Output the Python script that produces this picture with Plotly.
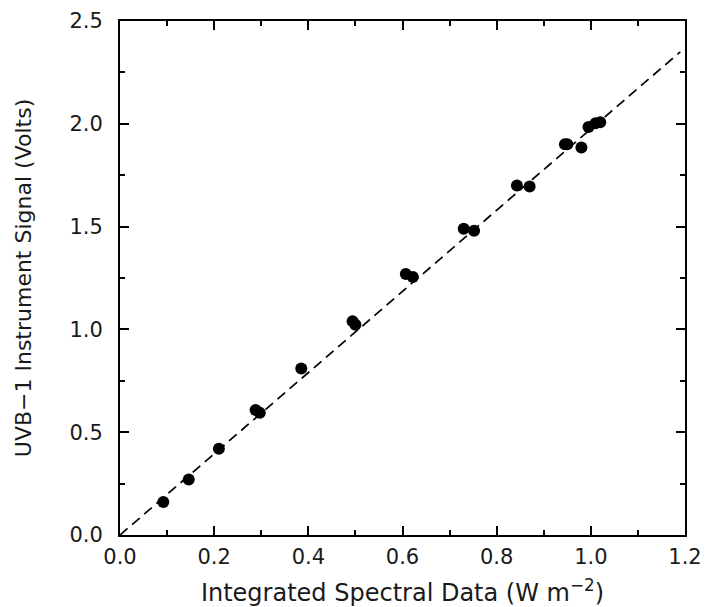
import plotly.graph_objects as go

# Data
spectral_x = [0.092, 0.146, 0.21, 0.288, 0.297, 0.385, 0.494, 0.50, 0.607, 0.622,
              0.73, 0.752, 0.843, 0.87, 0.945, 0.95, 0.98, 0.995, 1.01, 1.02]
signal_y = [0.16, 0.27, 0.42, 0.608, 0.594, 0.81, 1.04, 1.023, 1.27, 1.255,
            1.49, 1.48, 1.70, 1.695, 1.90, 1.90, 1.885, 1.984, 2.003, 2.008]

fit_x = [0.0, 1.19]
fit_y = [0.0, 2.35]

x_ticks = [0.0, 0.2, 0.4, 0.6, 0.8, 1.0, 1.2]
x_tick_text = ["0.0", "0.2", "0.4", "0.6", "0.8", "1.0", "1.2"]
y_ticks = [0.0, 0.5, 1.0, 1.5, 2.0, 2.5]
y_tick_text = ["0.0", "0.5", "1.0", "1.5", "2.0", "2.5"]

font_family = "DejaVu Sans"
text_color = "#1a1a1a"

fig = go.Figure()
fig.add_trace(go.Scatter(
    x=fit_x, y=fit_y, mode="lines",
    line=dict(color="black", width=1.7, dash="10px,6px"),
    showlegend=False, hoverinfo="skip",
))
fig.add_trace(go.Scatter(
    x=spectral_x, y=signal_y, mode="markers",
    marker=dict(color="black", size=12, line=dict(width=0)),
    showlegend=False,
))

axis_common = dict(
    showgrid=False, zeroline=False, automargin=False,
    showline=True, linecolor="black", linewidth=2, mirror="allticks",
    ticks="inside", ticklen=9, tickwidth=1.5, tickcolor="black",
    ticklabeloverflow="allow",
    tickfont=dict(family=font_family, size=21, color=text_color),
)

fig.update_xaxes(
    range=[0, 1.2], tickvals=x_ticks, ticktext=x_tick_text,
    minor=dict(dtick=0.1, ticks="inside", ticklen=5, tickwidth=1.5, tickcolor="black"),
    title=dict(text="Integrated Spectral Data (W m<sup>−2</sup>)",
               font=dict(family=font_family, size=24, color=text_color), standoff=16),
    ticklabelstandoff=2,
    **axis_common,
)
fig.update_yaxes(
    range=[0, 2.5], tickvals=y_ticks, ticktext=y_tick_text,
    minor=dict(dtick=0.25, ticks="inside", ticklen=5, tickwidth=1.5, tickcolor="black"),
    title=dict(text="UVB−1 Instrument Signal (Volts)",
               font=dict(family=font_family, size=22, color=text_color), standoff=32),
    ticklabelstandoff=11,
    **axis_common,
)

fig.update_layout(
    width=708, height=607,
    margin=dict(l=112, r=31, t=13, b=80),
    paper_bgcolor="white", plot_bgcolor="white",
    showlegend=False,
)

fig.write_html("out.html")
